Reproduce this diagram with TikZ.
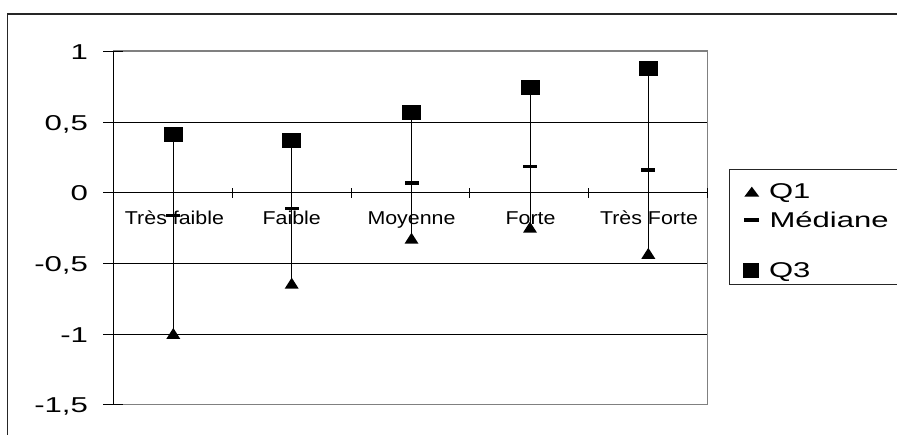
\documentclass[tikz,border=0pt]{standalone}
\usepackage{fontspec}
\setmainfont{Liberation Sans}
\usepackage{graphicx}
\newcommand\Yv[1]{(193-141.3*(#1))}
\newcommand\axlab[1]{\fontsize{21.5}{24}\selectfont\scalebox{1.45}[1]{#1}}
\newcommand\catlab[1]{\fontsize{18.6}{21}\selectfont\scalebox{1.15}[1]{#1}}
\newcommand\leglab[1]{\fontsize{21.4}{24}\selectfont\scalebox{1.45}[1]{#1}}
\begin{document}
\begin{tikzpicture}[x=1pt,y=-1pt,
  q3box/.style={rectangle,fill=black,draw=none,minimum width=19pt,minimum height=15pt,inner sep=0pt},
  medbox/.style={rectangle,fill=black,draw=none,minimum width=14pt,minimum height=3.2pt,inner sep=0pt},
  whisk/.style={draw=black,line width=1pt},
  grid/.style={draw=black,line width=1pt},
  border/.style={draw=black!50,line width=1.5pt},
  frame/.style={draw=black!85,line width=1.1pt},
  tick/.style={draw=black,line width=1pt},
  lab/.style={inner sep=0pt,outer sep=0pt},
  trimark/.pic={\fill[black] (-7,5.5) -- (7,5.5) -- (0,-5.5) -- cycle;},
  legtri/.pic={\fill[black] (-7.5,5) -- (7.5,5) -- (0,-5) -- cycle;}
]
\useasboundingbox (0,0) rectangle (897,435);
\clip (0,0) rectangle (897,435);
% outer frame
\draw[frame] (7.5,440) -- (7.5,14) -- (905,14);
% plot area
\draw[border] (113.7,51) rectangle (707.3,404.3);
\foreach \v in {0.5,0,-0.5,-1}{
  \draw[grid] (113.7,{\Yv{\v}}) -- (707.3,{\Yv{\v}});
}
\draw[tick] (113.7,51) -- (113.7,404.3);
\foreach \v/\t in {1/1,0.5/{0,5},0/0,-0.5/{-0,5},-1/-1,-1.5/{-1,5}}{
  \draw[tick] (103.3,{\Yv{\v}}) -- (123.3,{\Yv{\v}});
  \node[lab,anchor=base east] at (88,{\Yv{\v}+7.8}) {\axlab{\t}};
}
\foreach \k in {0,...,5}{
  \draw[tick] ({113.7+118.72*\k},188.3) -- ({113.7+118.72*\k},198.3);
}
% category labels
\foreach \x/\t in {174.5/Très faible,291.7/Faible,411.5/Moyenne,530.5/Forte,649/Très Forte}{
  \node[lab,anchor=base] at (\x,224.3) {\catlab{\t}};
}
% data
\foreach \n/\x/\a/\m/\b in {a/173.3/-0.994/-0.16/0.414,
                            b/291.7/-0.638/-0.108/0.373,
                            c/411.5/-0.32/0.071/0.571,
                            d/530/-0.242/0.186/0.748,
                            e/648.3/-0.427/0.163/0.878}{
  \coordinate (q1\n) at (\x,{\Yv{\a}});
  \coordinate (me\n) at (\x,{\Yv{\m}});
  \coordinate (q3\n) at (\x,{\Yv{\b}});
  \draw[whisk] (q1\n) -- (q3\n);
  \pic at (q1\n) {trimark};
  \node[medbox] (med\n) at (me\n) {};
  \node[q3box] (sq\n) at (q3\n) {};
}
% legend
\draw[frame,line width=1pt] (905,169.3) -- (729.3,169.3) -- (729.3,285) -- (905,285);
\pic at (751.8,191.7) {legtri};
\node[medbox,minimum width=15pt] (legmed) at (751.8,220) {};
\node[q3box,minimum width=16.6pt] (legsq) at (751,270.8) {};
\node[lab,anchor=base west] (legq1) at (769,199) {\leglab{Q1}};
\node[lab,anchor=base west] (legm) at (769.5,227.7) {\leglab{Médiane}};
\node[lab,anchor=base west] (legq3) at (769,277.7) {\leglab{Q3}};
\end{tikzpicture}
\end{document}
